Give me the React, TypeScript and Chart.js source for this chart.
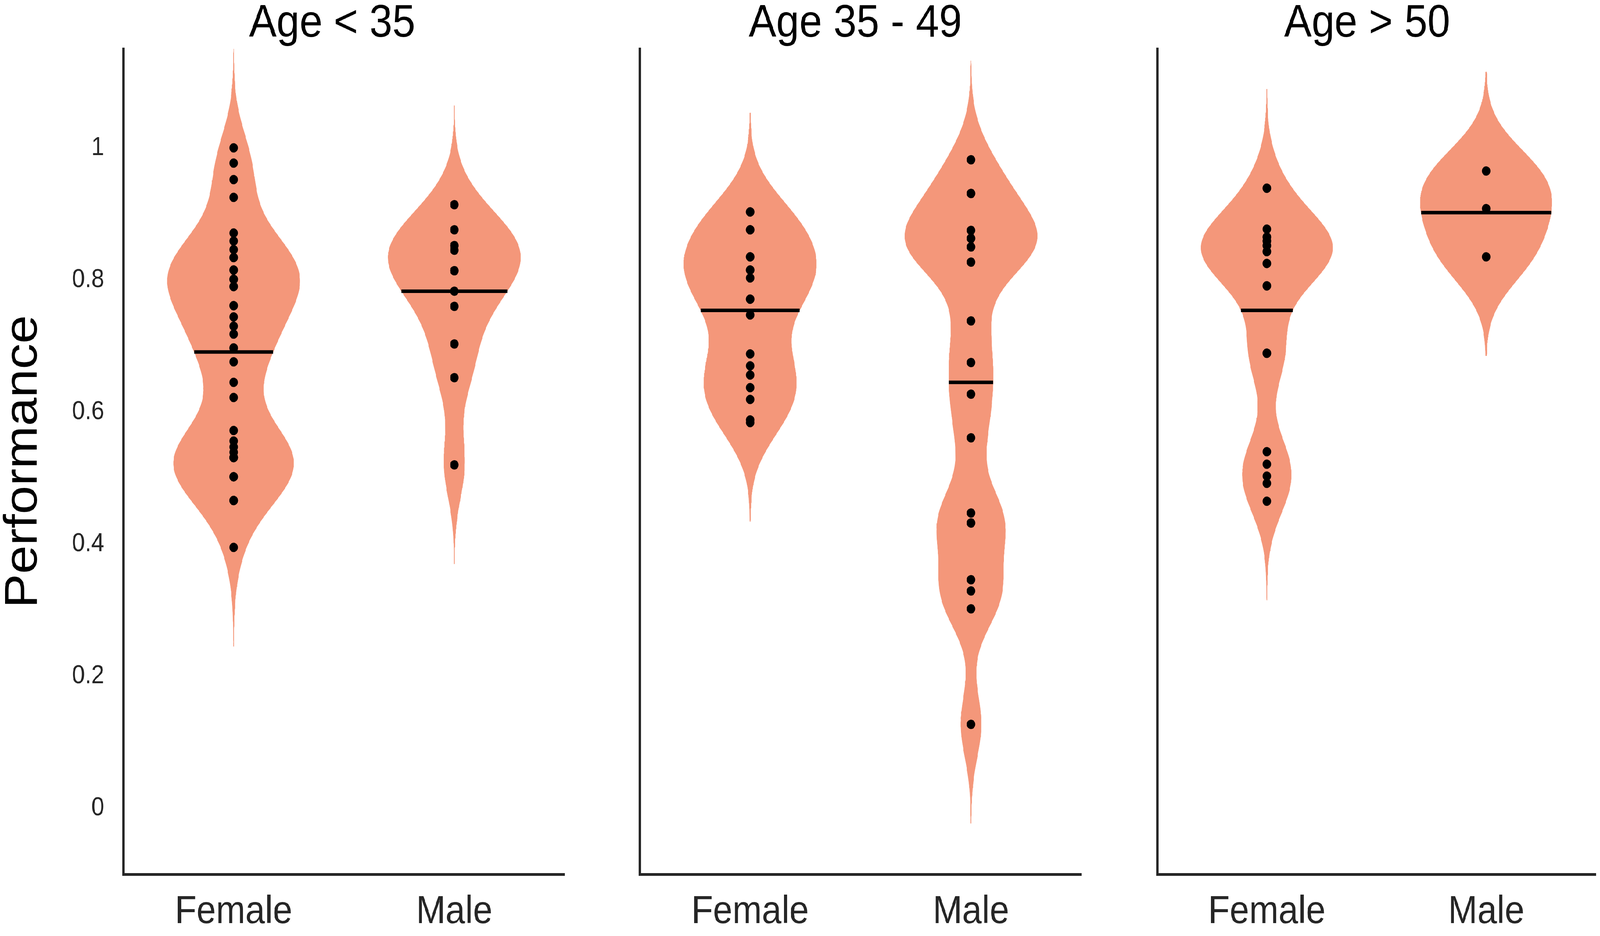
import React, { useEffect, useRef } from 'react';
import { Chart, registerables } from 'chart.js';

Chart.register(...registerables);

const FONT = '"Liberation Sans", Arial, Helvetica, sans-serif';
const VIOLIN_COLOR = '#F4977A';
const AXIS_COLOR = '#262626';
const DESIGN_W = 4542;
const DESIGN_H = 2396;

// ---------- data ----------
const panelTitles = ['Age < 35', 'Age 35 - 49', 'Age > 50'];
const groupLabels = ['Female', 'Male'];
const yTickValues = [0, 0.2, 0.4, 0.6, 0.8, 1];
const yAxisLabel = 'Performance';

// individual scores (tied values repeat, as the violin widths show)
const under35Female = [1.0, 0.977, 0.952, 0.925, 0.871, 0.859, 0.846, 0.834, 0.834, 0.815, 0.815, 0.801, 0.801, 0.801, 0.79, 0.79, 0.761, 0.761, 0.744, 0.73, 0.718, 0.697, 0.697, 0.676, 0.645, 0.622, 0.572, 0.556, 0.547, 0.539, 0.531, 0.531, 0.531, 0.531, 0.502, 0.502, 0.502, 0.466, 0.466, 0.466, 0.395];
const under35Male = [0.914, 0.876, 0.852, 0.852, 0.845, 0.814, 0.814, 0.783, 0.76, 0.703, 0.652, 0.52];
const mid35Female = [0.903, 0.903, 0.876, 0.876, 0.835, 0.835, 0.815, 0.815, 0.803, 0.771, 0.771, 0.747, 0.688, 0.67, 0.656, 0.637, 0.619, 0.588, 0.584];
const mid35Male = [0.982, 0.931, 0.931, 0.875, 0.863, 0.863, 0.85, 0.85, 0.827, 0.738, 0.675, 0.627, 0.561, 0.447, 0.432, 0.432, 0.346, 0.329, 0.302, 0.127];
const over50Female = [0.939, 0.939, 0.877, 0.865, 0.865, 0.859, 0.859, 0.852, 0.852, 0.843, 0.843, 0.825, 0.825, 0.791, 0.791, 0.689, 0.689, 0.689, 0.54, 0.521, 0.503, 0.492, 0.465];
const over50Male = [0.965, 0.908, 0.835];

// mean lines
const under35Means = [0.691, 0.783];
const mid35Means = [0.754, 0.645];
const over50Means = [0.754, 0.902];

// ---------- violin (kernel density) parameters ----------
const BANDWIDTH = 0.05;
const CUT = 0.15;
const HALF_WIDTH = 0.3;
const SAMPLES = 300;

const panels = [
  { title: panelTitles[0], groups: [under35Female, under35Male], means: under35Means },
  { title: panelTitles[1], groups: [mid35Female, mid35Male], means: mid35Means },
  { title: panelTitles[2], groups: [over50Female, over50Male], means: over50Means },
];

// canvas placement (design px); rightBox keeps each title where the original put it
const layouts = [
  { left: 0, width: 1886, yWidth: 350, padRight: 0, rightBox: 283, showY: true },
  { left: 1776, width: 1306, yWidth: 40, padRight: 2, rightBox: 9, showY: false },
  { left: 3222, width: 1320, yWidth: 63, padRight: 2, rightBox: 0, showY: false },
];

function density(values: number[], y: number) {
  let s = 0;
  for (const v of values) {
    const z = (y - v) / BANDWIDTH;
    s += Math.exp(-0.5 * z * z);
  }
  return s;
}

function violinShape(values: number[]) {
  const lo = Math.min(...values) - CUT;
  const hi = Math.max(...values) + CUT;
  const ys: number[] = [];
  const ds: number[] = [];
  for (let i = 0; i <= SAMPLES; i++) {
    const y = lo + ((hi - lo) * i) / SAMPLES;
    ys.push(y);
    ds.push(density(values, y));
  }
  const max = Math.max(...ds);
  return { ys, ds, max };
}

function buildDatasets(groups: number[][], means: number[]) {
  const dots: any[] = [];
  const lines: any[] = [];
  const violins: any[] = [];
  groups.forEach((vals, gi) => {
    const c = gi + 1;
    const { ys, ds, max } = violinShape(vals);
    const poly: { x: number; y: number }[] = [];
    for (let i = 0; i < ys.length; i++) poly.push({ x: c + (HALF_WIDTH * ds[i]) / max, y: ys[i] });
    for (let i = ys.length - 1; i >= 0; i--) poly.push({ x: c - (HALF_WIDTH * ds[i]) / max, y: ys[i] });
    violins.push({
      type: 'line',
      data: poly,
      yAxisID: 'y',
      showLine: true,
      fill: 'shape',
      backgroundColor: VIOLIN_COLOR,
      borderColor: VIOLIN_COLOR,
      borderWidth: 1,
      pointRadius: 0,
      tension: 0,
      order: 3,
    });
    const m = means[gi];
    const hw = (HALF_WIDTH * density(vals, m)) / max;
    lines.push({
      type: 'line',
      data: [
        { x: c - hw, y: m },
        { x: c + hw, y: m },
      ],
      yAxisID: 'y',
      showLine: true,
      fill: false,
      borderColor: '#000',
      borderWidth: 9,
      borderCapStyle: 'butt',
      pointRadius: 0,
      order: 2,
    });
    dots.push({
      type: 'scatter',
      data: vals.map((v) => ({ x: c, y: v })),
      yAxisID: 'y',
      pointRadius: 12,
      pointBackgroundColor: '#000',
      pointBorderWidth: 0,
      showLine: false,
      order: 1,
    });
  });
  return [...dots, ...lines, ...violins];
}

function makeConfig(panel: any, i: number, dpr: number): any {
  const L = layouts[i];
  return {
    type: 'scatter',
    data: { datasets: buildDatasets(panel.groups, panel.means) },
    options: {
      animation: false,
      responsive: false,
      maintainAspectRatio: false,
      devicePixelRatio: dpr,
      events: [],
      layout: { padding: { left: 0, right: L.padRight, top: 0, bottom: 0 } },
      plugins: {
        legend: { display: false },
        tooltip: { enabled: false },
        title: {
          display: true,
          text: panel.title,
          fullSize: true,
          color: '#000',
          font: { family: FONT, size: 117, weight: 'normal', lineHeight: 1 },
          padding: { top: 3, bottom: 5 },
        },
      },
      scales: {
        x: {
          type: 'linear',
          min: 0.5,
          max: 2.5,
          grid: { display: false, drawTicks: false },
          border: { display: true, color: AXIS_COLOR, width: 7 },
          afterBuildTicks: (s: any) => {
            s.ticks = groupLabels.map((_, k) => ({ value: k + 1 }));
          },
          afterFit: (s: any) => {
            s.height = 158;
          },
          ticks: {
            autoSkip: false,
            maxRotation: 0,
            padding: 37,
            color: AXIS_COLOR,
            font: { family: FONT, size: 100 },
            callback: (v: any) => groupLabels[Math.round(Number(v)) - 1] ?? '',
          },
        },
        y: {
          type: 'linear',
          position: 'left',
          min: -0.1,
          max: 1.15,
          grid: { display: false, drawTicks: false },
          border: { display: true, color: AXIS_COLOR, width: 7 },
          afterBuildTicks: (s: any) => {
            s.ticks = yTickValues.map((v) => ({ value: v }));
          },
          afterFit: (s: any) => {
            s.width = L.yWidth;
          },
          ticks: {
            display: L.showY,
            autoSkip: false,
            padding: 54,
            color: AXIS_COLOR,
            font: { family: FONT, size: 66 },
            callback: (v: any) => String(v),
          },
          title: {
            display: L.showY,
            text: yAxisLabel,
            color: '#000',
            font: { family: FONT, size: 131, lineHeight: 1 },
            padding: { top: 2, bottom: 0 },
          },
        },
        spacer: {
          type: 'linear',
          axis: 'y',
          position: 'right',
          display: true,
          grid: { display: false, drawTicks: false },
          border: { display: false },
          ticks: { display: false },
          afterFit: (s: any) => {
            s.width = L.rightBox;
          },
        },
      },
    },
  };
}

export default function App() {
  const r0 = useRef<HTMLCanvasElement>(null);
  const r1 = useRef<HTMLCanvasElement>(null);
  const r2 = useRef<HTMLCanvasElement>(null);
  const refs = [r0, r1, r2];
  const hasWin = typeof window !== 'undefined';
  const sx = hasWin && window.innerWidth > 0 ? window.innerWidth / DESIGN_W : 1;
  const sy = hasWin && window.innerHeight > 0 ? window.innerHeight / DESIGN_H : 1;

  useEffect(() => {
    Chart.defaults.font.family = FONT;
    const dpr = Math.max(sx, sy) * (window.devicePixelRatio || 1);
    const charts = panels.map((p, i) => new Chart(refs[i].current as HTMLCanvasElement, makeConfig(p, i, dpr)));
    return () => charts.forEach((c) => c.destroy());
  }, []);

  return (
    <div style={{ position: 'fixed', left: 0, top: 0, width: '100vw', height: '100vh', overflow: 'hidden', background: '#fff' }}>
      <div
        style={{
          position: 'absolute',
          left: 0,
          top: 0,
          width: DESIGN_W,
          height: DESIGN_H,
          background: '#fff',
          transform: `scale(${sx}, ${sy})`,
          transformOrigin: '0 0',
        }}
      >
        {layouts.map((l, i) => (
          <canvas
            key={i}
            ref={refs[i]}
            width={l.width}
            height={DESIGN_H}
            style={{ position: 'absolute', left: l.left, top: 0, width: l.width, height: DESIGN_H }}
          />
        ))}
      </div>
    </div>
  );
}
